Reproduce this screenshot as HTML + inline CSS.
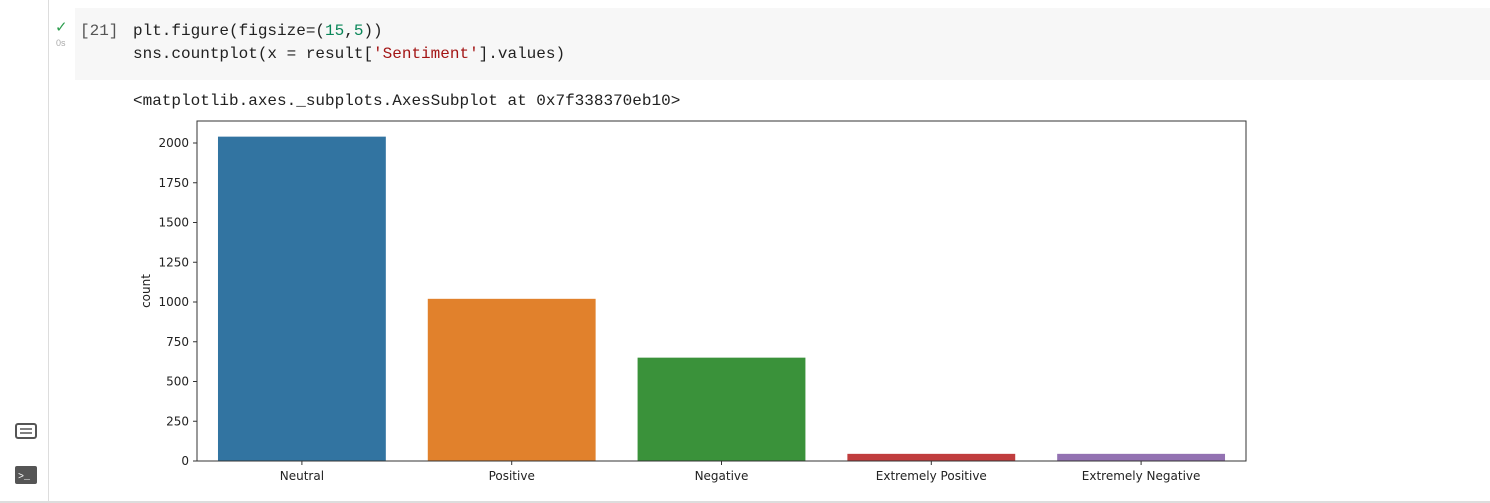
<!DOCTYPE html>
<html><head><meta charset="utf-8"><style>
body{margin:0;width:1490px;height:503px;background:#fff;overflow:hidden;position:relative;font-family:"Liberation Sans",sans-serif}
.mono{font-family:"Liberation Mono",monospace;font-size:16px;color:#212121}
</style></head><body>
<div style="position:absolute;left:48px;top:0;width:1px;height:501px;background:#ddd"></div>
<div style="position:absolute;left:0;top:501px;width:1490px;height:2px;background:#ddd"></div>
<div style="position:absolute;left:75px;top:8px;width:1415px;height:72px;background:#f7f7f7"></div>
<div style="position:absolute;left:55px;top:18px;color:#2e9e4f;font-size:15px">✓</div>
<div style="position:absolute;left:56px;top:38px;color:#aaa;font-size:9px">0s</div>
<div class="mono" style="position:absolute;left:80px;top:22px;color:#555">[21]</div>
<div class="mono" style="position:absolute;left:133px;top:22px">plt.figure(figsize=(<span style="color:#098658">15</span>,<span style="color:#098658">5</span>))</div>
<div class="mono" style="position:absolute;left:133px;top:45px">sns.countplot(x = result[<span style="color:#a31515">'Sentiment'</span>].values)</div>
<div class="mono" style="position:absolute;left:133px;top:92px">&lt;matplotlib.axes._subplots.AxesSubplot at 0x7f338370eb10&gt;</div>
<svg style="position:absolute;left:15px;top:423px" width="22" height="16"><rect x="1" y="1" width="20" height="14" rx="2" fill="none" stroke="#555" stroke-width="2"/><line x1="5" y1="6" x2="17" y2="6" stroke="#555" stroke-width="1.5"/><line x1="5" y1="10" x2="17" y2="10" stroke="#555" stroke-width="1.5"/></svg>
<svg style="position:absolute;left:15px;top:466px" width="22" height="19"><rect x="0" y="0" width="22" height="18" rx="2" fill="#555"/><text x="3" y="13" fill="#fff" font-size="10" font-family="Liberation Mono">&gt;_</text></svg>
<svg id="chart" style="position:absolute;left:0;top:0" width="1490" height="503"></svg>
<script>
const categories=["Neutral","Positive","Negative","Extremely Positive","Extremely Negative"];
const counts=[2040,1020,650,45,45];
const colors=["#3274a1","#e1812c","#3a923a","#c03d3e","#9372b2"];
const yTicks=[0,250,500,750,1000,1250,1500,1750,2000];
const NS="http://www.w3.org/2000/svg";
const svg=document.getElementById('chart');
const L=197,R=1246,T=121,B=461;
const y=v=>B-v*(318/2000);
const band=(R-L)/categories.length;
const x=i=>L+band*(i+0.5);
function mk(t,a){const e=document.createElementNS(NS,t);for(const k in a)e.setAttribute(k,a[k]);svg.appendChild(e);return e;}
categories.forEach((c,i)=>{
 const r=mk('rect',{x:x(i)-band*0.4,y:y(counts[i]),width:band*0.8,height:B-y(counts[i]),fill:colors[i]});
 
 
 mk('line',{x1:x(i),x2:x(i),y1:B,y2:B+4,stroke:'#333'});
 const t=mk('text',{x:x(i),y:B+19,'text-anchor':'middle','font-size':12,fill:'#222','font-family':'DejaVu Sans, sans-serif'});
 t.textContent=c;
 
 
});
yTicks.forEach(v=>{
 mk('line',{x1:L-4,x2:L,y1:y(v),y2:y(v),stroke:'#333'});
 const t=mk('text',{x:L-8,y:y(v)+4,'text-anchor':'end','font-size':12,fill:'#222','font-family':'DejaVu Sans, sans-serif'});
 t.textContent=v;
 
 
});
const f=mk('rect',{x:L,y:T,width:R-L,height:B-T,fill:'none',stroke:'#333','stroke-width':1});


const yl=mk('text',{x:0,y:0,transform:`translate(150,${(T+B)/2}) rotate(-90)`,'text-anchor':'middle','font-size':12,fill:'#222','font-family':'DejaVu Sans, sans-serif'});
yl.textContent='count';


</script>
</body></html>
